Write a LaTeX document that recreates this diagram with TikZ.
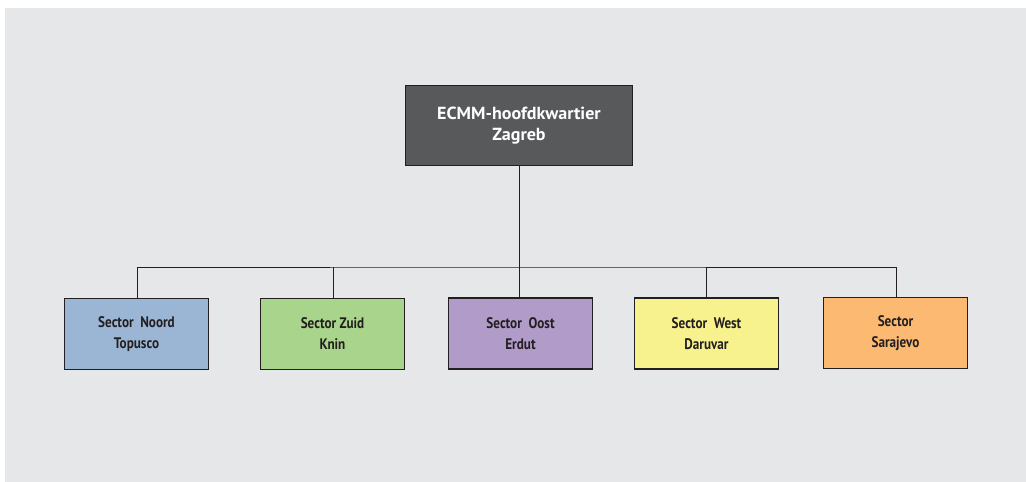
\documentclass[tikz,border=0pt]{standalone}
\usepackage{fontspec}
\setmainfont{PT Sans}[FakeStretch=0.86]
\newfontfamily\hqfont{PT Sans}[FakeStretch=1.03]
\definecolor{bg}{HTML}{E6E7E8}
\definecolor{hq}{HTML}{58595B}
\definecolor{cblue}{HTML}{9BB5D4}
\definecolor{cgreen}{HTML}{A9D48C}
\definecolor{cpurple}{HTML}{B09BC9}
\definecolor{cyellow}{HTML}{F7F18E}
\definecolor{corange}{HTML}{FBB972}
\definecolor{ink}{HTML}{231F20}
\begin{document}
\begin{tikzpicture}[x=1pt,y=-1pt,
  sectorbox/.style={draw=ink,line width=1.4pt,minimum width=144pt,minimum height=71pt,
    align=center,font=\fontsize{15.3}{21}\selectfont\bfseries,text=ink,inner sep=0pt},
  hqbox/.style={draw=ink,line width=1.4pt,fill=hq,minimum width=227pt,minimum height=80pt,
    align=center,font=\hqfont\fontsize{17.5}{21.5}\selectfont\bfseries,text=white,inner sep=0pt},
  link/.style={draw=ink,line width=1pt}]
\useasboundingbox (0,0) rectangle (1026,482);
\fill[white] (0,0) rectangle (1026,482);
\fill[bg] (5,8) rectangle (1026,482);
\node[hqbox] (hq) at (519,125.5) {ECMM-hoofdkwartier\\Zagreb};
\node[sectorbox,fill=cblue] (s1) at (136.5,334) {Sector\ \ Noord\\Topusco};
\node[sectorbox,fill=cgreen] (s2) at (332.5,334) {Sector Zuid\\Knin};
\node[sectorbox,fill=cpurple] (s3) at (520.5,333.5) {Sector\ \ Oost\\Erdut};
\node[sectorbox,fill=cyellow] (s4) at (706.5,333.5) {Sector\ \ West\\Daruvar};
\node[sectorbox,fill=corange] (s5) at (895.5,333) {Sector\\Sarajevo};
\coordinate (bus) at (519,267);
\draw[link] (hq.south) -- (bus);
\draw[link] (s1.north -| 137,0) |- (bus) -| (s5.north -| 896,0);
\draw[link] (s2.north -| 333,0) -- (333,267);
\draw[link] (s3.north -| 519,0) -- (519,267);
\draw[link] (s4.north -| 706,0) -- (706,267);
\end{tikzpicture}
\end{document}
